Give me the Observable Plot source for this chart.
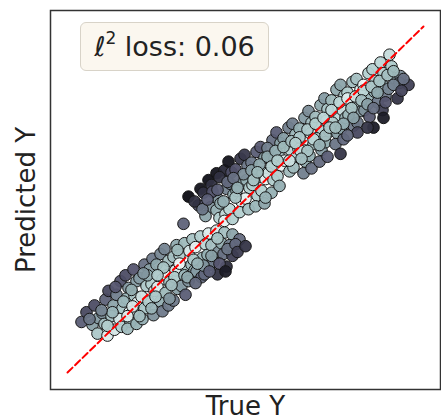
<!DOCTYPE html>
<html>
<head>
<meta charset="utf-8">
<script src="https://cdn.jsdelivr.net/npm/d3@7"></script>
<script src="https://cdn.jsdelivr.net/npm/@observablehq/plot@0.6"></script>
<style>
  html, body { margin: 0; padding: 0; background: #fff; }
  #wrap { position: relative; width: 441px; height: 420px; font-family: "DejaVu Sans", sans-serif; }
  #legend { position: absolute; left: 80px; top: 22px; width: 187px; height: 47px;
    border: 1px solid #d8d3c8; border-radius: 6px; background: #fbf7ef;
    font-size: 27px; color: #222; line-height: 47px; text-align: center; box-sizing: content-box; }
  #legend sup { font-size: 17px; position: relative; top: -2px; vertical-align: super; line-height: 0; }
</style>
</head>
<body>
<div id="wrap"><div id="legend"></div></div>
<script>
// True and predicted values
const trueY = [
  // lower cluster
  14,19,25,27,31,30,38,35,37,40,41,46,44,47,53,49,55,52,54,58,61,59,62,63,60,
  66,69,67,70,66,69,77,72,79,74,77,75,85,82,84,87,81,86,93,89,95,90,93,95,
  97,101,99,102,98,101,109,106,108,107,110,106,117,112,119,117,114,125,122,124,127,121,
  133,128,135,129,134,141,138,140,143,137,149,144,151,146,150,157,154,156,159,165,162,165,172,
  45,56,64,72,80,88,96,104,112,120,126,136,144,152,160,168,34,22,65,90,110,130,118,102,150,142,84,60,40,170,178,48,76,128,158,
  // isolated point
  116,
  // upper cluster
  121,133,131,141,136,143,138,149,144,151,149,152,157,152,159,153,158,157,
  161,164,163,166,162,165,173,168,175,169,174,172,177,180,179,182,178,181,
  189,184,191,185,190,188,193,197,195,198,194,197,205,200,207,201,206,204,
  209,213,211,214,210,212,221,216,223,217,222,225,228,231,229,226,
  237,232,239,233,238,236,241,244,243,246,242,244,253,248,255,249,254,252,
  257,260,259,262,258,260,269,264,271,265,270,268,273,273,277,275,278,274,276,
  285,280,287,281,286,289,293,291,294,290,290,301,296,303,297,302,
  305,308,307,310,306,313,316,315,318,315,322,324,327,321,330,333,332,341,
  127,135,145,160,168,176,184,192,200,208,216,224,232,240,248,256,264,272,280,288,296,304,312,320,326,336,
  150,166,186,204,222,240,258,276,294,310,326,300,284,262,246,228,210,190,170,156,140,198,234,252,268,286,306,318,334,316,300,280
];
const predY = [
  52,62,49,69,56,40,75,61,50,38,84,69,58,44,94,80,66,55,47,100,87,76,62,52,45,
  106,94,79,72,63,50,111,97,89,78,66,55,117,106,91,84,73,59,122,111,96,88,73,63,
  127,115,100,93,82,69,131,119,105,98,86,74,133,121,107,100,89,137,125,111,105,94,
  140,129,118,104,98,143,132,121,111,101,146,131,124,114,101,144,133,122,109,142,131,120,137,
  62,73,85,58,100,78,108,90,112,98,116,110,120,112,127,132,64,55,68,100,126,112,80,76,138,104,66,58,48,124,130,88,102,92,104,
  153,
  181,189,172,198,185,170,161,205,193,178,167,159,208,201,189,174,163,156,
  217,206,194,183,168,158,220,209,195,187,176,165,224,213,198,190,179,168,
  227,216,201,193,182,171,232,221,206,199,187,174,239,231,220,205,198,185,
  247,236,224,213,202,192,252,241,229,218,207,256,245,230,222,211,
  262,251,240,228,217,205,269,257,246,235,223,210,275,263,248,241,229,217,
  282,271,259,248,237,222,291,280,265,257,246,235,225,296,285,270,262,251,240,
  299,288,277,265,254,302,291,276,269,257,247,308,296,285,270,263,
  312,300,289,278,252,319,308,296,285,270,327,315,303,292,282,305,298,296,
  176,168,186,196,180,204,208,214,222,228,232,238,242,250,256,262,270,278,282,284,290,294,300,306,310,302,
  188,200,198,212,218,228,244,256,280,288,296,276,272,252,240,236,218,206,190,176,178,180,220,234,252,262,272,278,290,262,252,244
];
const lineEnds = [0, 356];
const lossValue = "0.06";
const axisLabels = {x: "True Y", y: "Predicted Y"};

const points = trueY.map((t, i) => ({t, p: predY[i], err: Math.abs(predY[i] - t)}));
const ident = lineEnds.map(v => ({t: v, p: v}));

const chart = Plot.plot({
  width: 441,
  height: 420,
  marginLeft: 50,
  marginRight: 1,
  marginTop: 10,
  marginBottom: 31,
  style: {fontFamily: "DejaVu Sans, sans-serif", background: "transparent"},
  x: {domain: [-17, 373], axis: null},
  y: {domain: [-17.5, 372.5], axis: null},
  color: {type: "linear", domain: [0, 7, 22, 40, 58],
          range: ["#eef7f7", "#b4d0d0", "#8fa9ad", "#55556f", "#0c0c14"], clamp: true},
  marks: [
    Plot.dot(points, {x: "t", y: "p", r: 5.8, fill: "err", fillOpacity: 0.95,
                      stroke: "#151515", strokeWidth: 1}),
    Plot.line(ident, {x: "t", y: "p", stroke: "red", strokeWidth: 2, strokeDasharray: "7,3.5"}),
    Plot.frame({stroke: "#333", strokeWidth: 1.5}),
    Plot.text([axisLabels.x], {frameAnchor: "bottom", dy: 17, fontSize: 26, fill: "#222", lineAnchor: "middle", textAnchor: "middle"}),
    Plot.text([axisLabels.y], {frameAnchor: "left", dx: -24, rotate: -90, fontSize: 26, fill: "#222", lineAnchor: "middle", textAnchor: "middle"})
  ]
});
const wrap = document.getElementById("wrap");
wrap.insertBefore(chart, wrap.firstChild);
chart.style.position = "absolute";
chart.style.left = "0";
chart.style.top = "0";
document.getElementById("legend").innerHTML = "ℓ<sup>2</sup> loss: " + lossValue;
</script>
</body>
</html>
